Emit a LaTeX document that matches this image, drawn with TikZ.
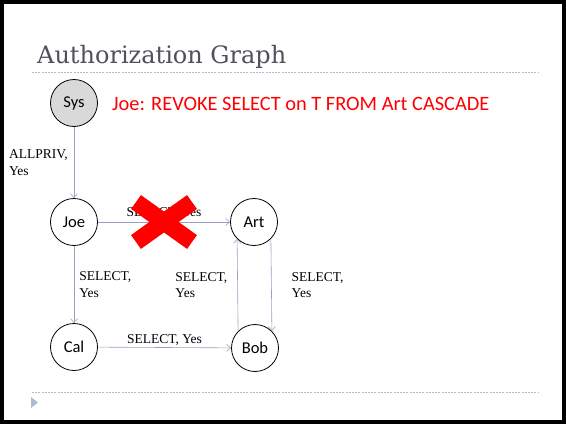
\documentclass[tikz,border=0pt]{standalone}
\usepackage{fontspec}
\setmainfont{Liberation Serif}
\newfontfamily\gillfont{Carlito}
\newfontfamily\titlefont{DejaVu Serif}
\usetikzlibrary{arrows.meta, positioning, calc}

\definecolor{edgegray}{HTML}{98A2C0}
\definecolor{rulegray}{HTML}{A9BDD2}
\definecolor{titlegray}{HTML}{50505E}

\begin{document}
\begin{tikzpicture}[x=1pt, y=-1pt,
        user/.style={circle, draw=black, thick, minimum size=47pt, inner sep=0pt, font=\gillfont\fontsize{16.5}{18}\selectfont},
        grant/.style={draw=edgegray, semithick, -{Straight Barb[length=4pt, width=7pt]}},
        lbl/.style={font=\fontsize{13.5}{16.5}\selectfont, align=left, inner sep=2pt}]
      \useasboundingbox (0,0) rectangle (566,424);

      % 1. Slide frame, title and rules
      \draw [line width=4pt] (2,2) rectangle (564,422);
      \node [anchor=base west, text=titlegray, font=\titlefont\fontsize{24}{28}\selectfont, inner sep=0pt] (title) at (37,63) {Authorization Graph};
      \draw [rulegray, line width=0.8pt, dash pattern=on 2pt off 1.2pt] (32,72) -- (538,72);
      \draw [rulegray, line width=0.8pt, dash pattern=on 2pt off 1.2pt] (32,392) -- (538,392);
      \fill [rulegray] (31,397) -- (38,402.5) -- (31,408) -- cycle;

      % 2. Users
      \node [user, fill=black!15] (sys) at (74,103) {Sys};
      \node [user] (joe) at (74,222) {Joe};
      \node [user] (art) at (254,222) {Art};
      \node [user] (cal) at (74,347) {Cal};
      \node [user] (bob) at (255,348) {Bob};

      % 3. Revoke statement
      \node [anchor=west, text=red, font=\gillfont\fontsize{20.4}{23}\selectfont, inner sep=0pt] (revoke) at (112,104) {Joe: REVOKE SELECT on T FROM Art CASCADE};

      % 4. Grants
      \draw [grant] (sys) -- node [lbl, left, xshift=-4pt] {ALLPRIV,\\Yes} (joe);
      \draw [grant] (joe) -- node [lbl, above, yshift=1pt] {SELECT, Yes} (art);
      \draw [grant] (joe) -- node [lbl, right, xshift=3pt] {SELECT,\\Yes} (cal);
      \draw [grant] (cal) -- node [lbl, above, yshift=0pt] {SELECT, Yes} (bob);
      \draw [grant] (bob.north west) -- node [lbl, left, xshift=-8pt] {SELECT,\\Yes} (art.south west);
      \draw [grant] (art.south east) -- node [lbl, right, xshift=18pt] {SELECT,\\Yes} (bob.north east);

      % 5. Revoked grant
      \coordinate (cut) at ($(joe.east)!0.5!(art.west)$);
      \draw [red, line width=17pt] ($(cut)+(-28,-20)$) -- ($(cut)+(28,20)$);
      \draw [red, line width=17pt] ($(cut)+(-28,20)$) -- ($(cut)+(28,-20)$);
    \end{tikzpicture}
\end{document}
